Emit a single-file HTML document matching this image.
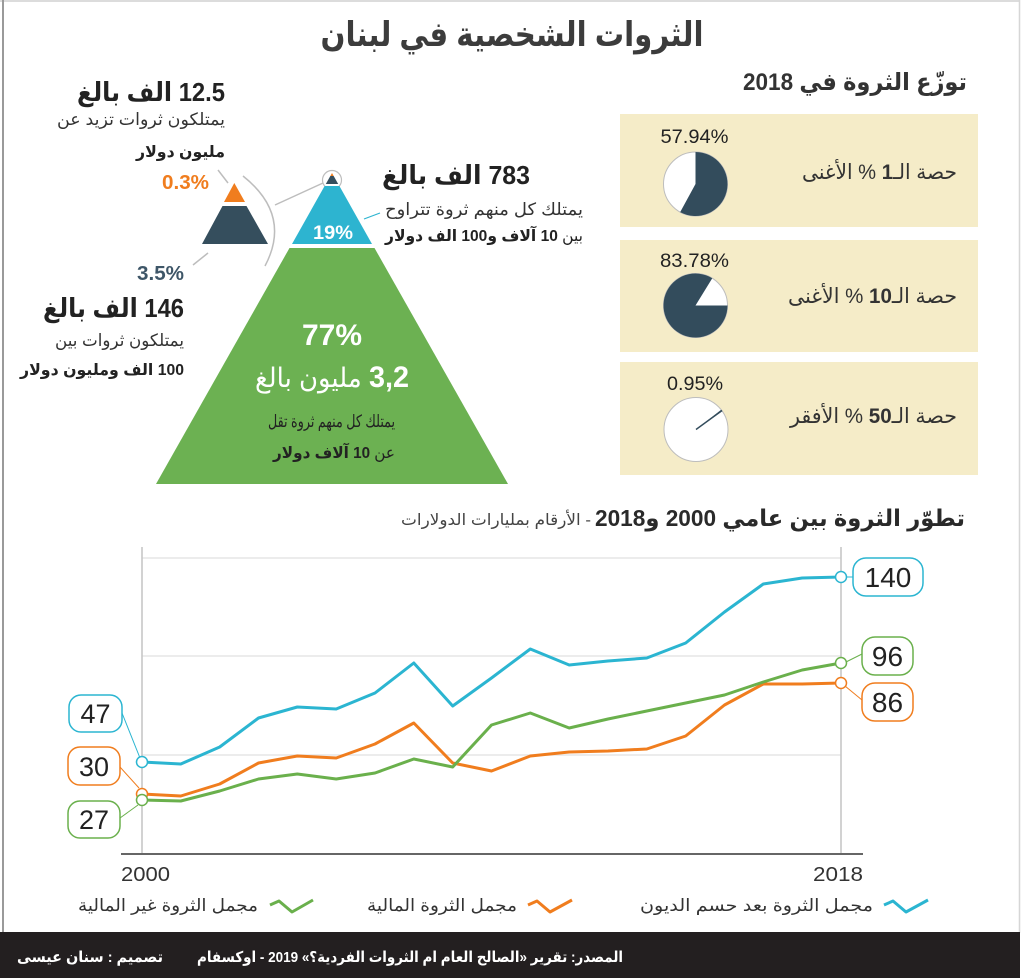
<!DOCTYPE html>
<html lang="ar">
<head>
<meta charset="utf-8">
<style>
html,body{margin:0;padding:0;background:#fff;}
svg{display:block;}
text{font-family:"Liberation Sans","DejaVu Sans",sans-serif;}
</style>
</head>
<body>
<svg width="1024" height="980" viewBox="0 0 1024 980" xmlns="http://www.w3.org/2000/svg">
  <rect x="0" y="0" width="1024" height="980" fill="#fff"/>
  <!-- frame -->
  <line x1="0" y1="1" x2="1020" y2="1" stroke="#dcdcdc" stroke-width="2"/>
  <line x1="3" y1="0" x2="3" y2="933" stroke="#9a9a9a" stroke-width="2"/>
  <line x1="1019.5" y1="0" x2="1019.5" y2="933" stroke="#d6d6d6" stroke-width="1.5"/>

  <!-- title -->
  <text x="512" y="46" direction="rtl" text-anchor="middle" font-size="34" font-weight="bold" fill="#3c3c3c" textLength="383" lengthAdjust="spacingAndGlyphs">الثروات الشخصية في لبنان</text>

  <!-- right section title -->
  <text x="855" y="90" direction="rtl" text-anchor="middle" font-size="24" font-weight="bold" fill="#333" textLength="224" lengthAdjust="spacingAndGlyphs">توزّع الثروة في 2018</text>

  <!-- beige boxes -->
  <rect x="620" y="114" width="358" height="113" fill="#f5ecc8"/>
  <rect x="620" y="240" width="358" height="112" fill="#f5ecc8"/>
  <rect x="620" y="362" width="358" height="113" fill="#f5ecc8"/>

  <!-- pie 1 -->
  <circle cx="695.5" cy="184" r="32" fill="#fff" stroke="#bdbdbd" stroke-width="1"/>
  <path d="M695.5,184 L695.5,152 A32,32 0 1 1 680.18,212.1 Z" fill="#334c5c"/>
  <text x="694.5" y="143" text-anchor="middle" font-size="19" fill="#222" textLength="68" lengthAdjust="spacingAndGlyphs">57.94%</text>
  <text x="879.5" y="179" direction="rtl" text-anchor="middle" font-size="21" fill="#333" textLength="155" lengthAdjust="spacingAndGlyphs">حصة الـ<tspan font-weight="bold">1</tspan> % الأغنى</text>

  <!-- pie 2 -->
  <circle cx="695.5" cy="305.5" r="32" fill="#fff" stroke="#bdbdbd" stroke-width="1"/>
  <path d="M695.5,305.5 L727.5,305.5 A32,32 0 1 1 712.27,278.25 Z" fill="#334c5c"/>
  <text x="694.5" y="267" text-anchor="middle" font-size="19" fill="#222" textLength="69" lengthAdjust="spacingAndGlyphs">83.78%</text>
  <text x="872.5" y="303" direction="rtl" text-anchor="middle" font-size="21" fill="#333" textLength="169" lengthAdjust="spacingAndGlyphs">حصة الـ<tspan font-weight="bold">10</tspan> % الأغنى</text>

  <!-- pie 3 -->
  <circle cx="696" cy="429.5" r="32" fill="#fff" stroke="#bdbdbd" stroke-width="1"/>
  <path d="M696,429.5 L721.2,409.8 L722.3,411.3 Z" fill="#334c5c"/>
  <line x1="696" y1="429.5" x2="722" y2="410.5" stroke="#334c5c" stroke-width="1.4"/>
  <text x="695" y="390" text-anchor="middle" font-size="19" fill="#222" textLength="56" lengthAdjust="spacingAndGlyphs">0.95%</text>
  <text x="873.5" y="423" direction="rtl" text-anchor="middle" font-size="21" fill="#333" textLength="167" lengthAdjust="spacingAndGlyphs">حصة الـ<tspan font-weight="bold">50</tspan> % الأفقر</text>

  <!-- left texts -->
  <text x="151" y="101" direction="rtl" text-anchor="middle" font-size="26" font-weight="bold" fill="#222" textLength="148" lengthAdjust="spacingAndGlyphs">12.5 الف بالغ</text>
  <text x="141" y="125" direction="rtl" text-anchor="middle" font-size="17" fill="#333" textLength="168" lengthAdjust="spacingAndGlyphs">يمتلكون ثروات تزيد عن</text>
  <text x="180.5" y="157" direction="rtl" text-anchor="middle" font-size="16" font-weight="bold" fill="#222" textLength="89" lengthAdjust="spacingAndGlyphs">مليون دولار</text>
  <text x="185.5" y="189" text-anchor="middle" font-size="20" font-weight="bold" fill="#f07d1e" textLength="47" lengthAdjust="spacingAndGlyphs">0.3%</text>
  <text x="160.5" y="280" text-anchor="middle" font-size="20" font-weight="bold" fill="#3e5668" textLength="47" lengthAdjust="spacingAndGlyphs">3.5%</text>
  <text x="113.5" y="317" direction="rtl" text-anchor="middle" font-size="26" font-weight="bold" fill="#222" textLength="141" lengthAdjust="spacingAndGlyphs">146 الف بالغ</text>
  <text x="119.5" y="346" direction="rtl" text-anchor="middle" font-size="17" fill="#333" textLength="129" lengthAdjust="spacingAndGlyphs">يمتلكون ثروات بين</text>
  <text x="102" y="375" direction="rtl" text-anchor="middle" font-size="16" font-weight="bold" fill="#222" textLength="164" lengthAdjust="spacingAndGlyphs">100 الف ومليون دولار</text>

  <!-- small pyramid -->
  <polygon points="234.3,183 245,202 224,202" fill="#f07d1e"/>
  <polygon points="222.5,206 246.5,206 268,244 202,244" fill="#354e5d"/>
  <path d="M243,176 Q292,215 265,266" fill="none" stroke="#bdbdbd" stroke-width="1.5"/>
  <line x1="218" y1="170" x2="228" y2="183" stroke="#bdbdbd" stroke-width="1.5"/>
  <line x1="193" y1="265" x2="208" y2="253" stroke="#bdbdbd" stroke-width="1.5"/>
  <line x1="275" y1="205" x2="323" y2="183" stroke="#bdbdbd" stroke-width="1.5"/>
  <circle cx="332" cy="180" r="9.5" fill="none" stroke="#bdbdbd" stroke-width="1.2"/>

  <!-- big pyramid -->
  <polygon points="289.5,248 374.5,248 508,484 156,484" fill="#6cb152"/>
  <polygon points="324.6,186 339.4,186 372,244 292,244" fill="#2db4d0"/>
  <polygon points="330.3,176 333.7,176 338.2,184 325.8,184" fill="#354e5d"/>
  <polygon points="332,173 330.3,176 333.7,176" fill="#f07d1e"/>
  <line x1="364" y1="219" x2="380" y2="213" stroke="#2db4d0" stroke-width="1.2"/>

  <text x="333" y="239" text-anchor="middle" font-size="19" font-weight="bold" fill="#fff" textLength="40" lengthAdjust="spacingAndGlyphs">19%</text>
  <text x="332" y="345" text-anchor="middle" font-size="30" font-weight="bold" fill="#fff" textLength="60" lengthAdjust="spacingAndGlyphs">77%</text>
  <text x="332" y="387" direction="rtl" text-anchor="middle" font-size="27" fill="#fff" textLength="154" lengthAdjust="spacingAndGlyphs"><tspan font-weight="bold" font-size="30">3,2</tspan> مليون بالغ</text>
  <text x="331.5" y="427" direction="rtl" text-anchor="middle" font-size="17" fill="#222" textLength="127" lengthAdjust="spacingAndGlyphs">يمتلك كل منهم ثروة تقل</text>
  <text x="334" y="458" direction="rtl" text-anchor="middle" font-size="16" fill="#222" textLength="122" lengthAdjust="spacingAndGlyphs">عن <tspan font-weight="bold">10 آلاف دولار</tspan></text>

  <!-- 783 block -->
  <text x="456" y="184" direction="rtl" text-anchor="middle" font-size="26" font-weight="bold" fill="#222" textLength="148" lengthAdjust="spacingAndGlyphs">783 الف بالغ</text>
  <text x="484" y="215" direction="rtl" text-anchor="middle" font-size="17" fill="#333" textLength="198" lengthAdjust="spacingAndGlyphs">يمتلك كل منهم ثروة تتراوح</text>
  <text x="484" y="241" direction="rtl" text-anchor="middle" font-size="16" fill="#222" textLength="198" lengthAdjust="spacingAndGlyphs">بين <tspan font-weight="bold">10 آلاف و100 الف دولار</tspan></text>

  <!-- line chart title -->
  <text x="780" y="526" direction="rtl" text-anchor="middle" font-size="23" font-weight="bold" fill="#2a2a2a" textLength="370" lengthAdjust="spacingAndGlyphs">تطوّر الثروة بين عامي 2000 و2018</text>
  <text x="496" y="525" direction="rtl" text-anchor="middle" font-size="16" fill="#444" textLength="190" lengthAdjust="spacingAndGlyphs">- الأرقام بمليارات الدولارات</text>

  <!-- chart grid -->
  <g stroke="#e6e6e6" stroke-width="1.5">
    <line x1="142" y1="558" x2="841" y2="558"/>
    <line x1="142" y1="656" x2="841" y2="656"/>
    <line x1="142" y1="755" x2="841" y2="755"/>
  </g>
  <g stroke="#c4c4c4" stroke-width="1.5">
    <line x1="142" y1="547" x2="142" y2="854"/>
    <line x1="841" y1="547" x2="841" y2="854"/>
  </g>
  <line x1="121" y1="854" x2="863" y2="854" stroke="#666" stroke-width="2"/>

  <text x="145.5" y="881" text-anchor="middle" font-size="20" fill="#333" textLength="49" lengthAdjust="spacingAndGlyphs">2000</text>
  <text x="838" y="881" text-anchor="middle" font-size="20" fill="#333" textLength="50" lengthAdjust="spacingAndGlyphs">2018</text>

  <!-- series -->
  <polyline fill="none" stroke="#2bb5d1" stroke-width="3" stroke-linejoin="round"
    points="142,762 180.8,764 219.7,747 258.5,718 297.3,707 336.2,709 375,693 413.8,663 452.7,706 491.5,678 530.3,649 569.2,665 608,661 646.8,658 685.7,643 724.5,612 763.3,584 802.2,578 841,577"/>
  <polyline fill="none" stroke="#f07d1e" stroke-width="3" stroke-linejoin="round"
    points="142,794 180.8,796 219.7,784 258.5,763 297.3,756 336.2,758 375,744 413.8,723 452.7,763 491.5,771 530.3,756 569.2,752 608,751 646.8,749 685.7,736 724.5,705 763.3,684 802.2,684 841,683"/>
  <polyline fill="none" stroke="#6ab04c" stroke-width="3" stroke-linejoin="round"
    points="142,800 180.8,801 219.7,791 258.5,779 297.3,774 336.2,779 375,773 413.8,759 452.7,767 491.5,725 530.3,713 569.2,728 608,719 646.8,711 685.7,703 724.5,695 763.3,682 802.2,670 841,663"/>

  <!-- left labels -->
  <line x1="122" y1="713" x2="140" y2="758" stroke="#2bb5d1" stroke-width="1"/>
  <line x1="120" y1="767" x2="139" y2="788" stroke="#f07d1e" stroke-width="1"/>
  <line x1="120" y1="818" x2="138" y2="805" stroke="#6ab04c" stroke-width="1"/>
  <circle cx="142" cy="762" r="5.5" fill="#fff" stroke="#2bb5d1" stroke-width="1.5"/>
  <circle cx="142" cy="794" r="5.5" fill="#fff" stroke="#f07d1e" stroke-width="1.5"/>
  <circle cx="142" cy="800" r="5.5" fill="#fff" stroke="#6ab04c" stroke-width="1.5"/>

  <rect x="69" y="695" width="53" height="37" rx="12" fill="#fff" stroke="#2bb5d1" stroke-width="1.5"/>
  <text x="95.5" y="723" text-anchor="middle" font-size="27" fill="#222">47</text>
  <rect x="68" y="747" width="52" height="38" rx="12" fill="#fff" stroke="#f07d1e" stroke-width="1.5"/>
  <text x="94" y="776" text-anchor="middle" font-size="27" fill="#222">30</text>
  <rect x="68" y="801" width="52" height="37" rx="12" fill="#fff" stroke="#6ab04c" stroke-width="1.5"/>
  <text x="94" y="829" text-anchor="middle" font-size="27" fill="#222">27</text>

  <!-- right labels -->
  <line x1="846" y1="577" x2="853" y2="577" stroke="#2bb5d1" stroke-width="1"/>
  <line x1="846" y1="662" x2="862" y2="654" stroke="#6ab04c" stroke-width="1"/>
  <line x1="845" y1="686" x2="862" y2="700" stroke="#f07d1e" stroke-width="1"/>
  <circle cx="841" cy="577" r="5.5" fill="#fff" stroke="#2bb5d1" stroke-width="1.5"/>
  <circle cx="841" cy="663" r="5.5" fill="#fff" stroke="#6ab04c" stroke-width="1.5"/>
  <circle cx="841" cy="683" r="5.5" fill="#fff" stroke="#f07d1e" stroke-width="1.5"/>

  <rect x="853" y="558" width="70" height="38" rx="13" fill="#fff" stroke="#2bb5d1" stroke-width="1.5"/>
  <text x="888" y="587" text-anchor="middle" font-size="28" fill="#222">140</text>
  <rect x="862" y="637" width="51" height="38" rx="13" fill="#fff" stroke="#6ab04c" stroke-width="1.5"/>
  <text x="887.5" y="666" text-anchor="middle" font-size="28" fill="#222">96</text>
  <rect x="862" y="683" width="51" height="38" rx="13" fill="#fff" stroke="#f07d1e" stroke-width="1.5"/>
  <text x="887.5" y="712" text-anchor="middle" font-size="28" fill="#222">86</text>

  <!-- legend -->
  <polyline points="270,905 279,901 292,912 313,900" fill="none" stroke="#6ab04c" stroke-width="3" stroke-linejoin="round"/>
  <text x="168" y="911" direction="rtl" text-anchor="middle" font-size="17" fill="#333" textLength="180" lengthAdjust="spacingAndGlyphs">مجمل الثروة غير المالية</text>
  <polyline points="528,905 537,901 550,912 572,900" fill="none" stroke="#f07d1e" stroke-width="3" stroke-linejoin="round"/>
  <text x="442" y="911" direction="rtl" text-anchor="middle" font-size="17" fill="#333" textLength="150" lengthAdjust="spacingAndGlyphs">مجمل الثروة المالية</text>
  <polyline points="884,905 893,901 906,912 928,900" fill="none" stroke="#2bb5d1" stroke-width="3" stroke-linejoin="round"/>
  <text x="756.5" y="911" direction="rtl" text-anchor="middle" font-size="17" fill="#333" textLength="233" lengthAdjust="spacingAndGlyphs">مجمل الثروة بعد حسم الديون</text>

  <!-- footer -->
  <rect x="0" y="932" width="1020" height="46" fill="#231f20"/>
  <text x="410" y="962" direction="rtl" text-anchor="middle" font-size="15" font-weight="bold" fill="#fff" textLength="426" lengthAdjust="spacingAndGlyphs">المصدر: تقرير «الصالح العام ام الثروات الفردية؟» 2019 - اوكسفام</text>
  <text x="90" y="962" direction="rtl" text-anchor="middle" font-size="15" font-weight="bold" fill="#fff" textLength="146" lengthAdjust="spacingAndGlyphs">تصميم : سنان عيسى</text>
</svg>
</body>
</html>
